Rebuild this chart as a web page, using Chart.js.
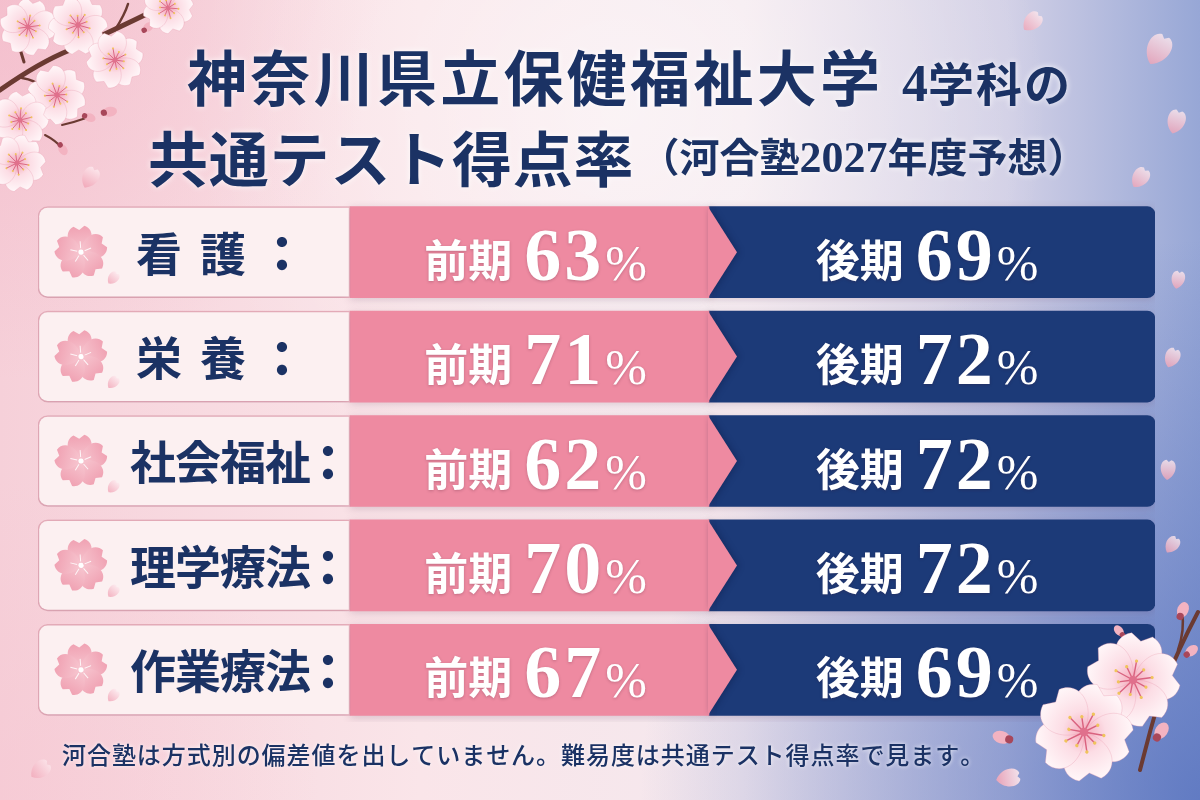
<!DOCTYPE html>
<html lang="ja">
<head>
<meta charset="utf-8">
<title>神奈川県立保健福祉大学 4学科の共通テスト得点率</title>
<script src="https://cdn.jsdelivr.net/npm/chart.js@4.4.1/dist/chart.umd.min.js"></script>
<style>
  html, body { margin: 0; padding: 0; background: #f6dde3; }
  #wrap { width: 1200px; height: 800px; }
</style>
</head>
<body>
<div id="wrap"><canvas id="rateChart" width="1200" height="800"></canvas></div>
<script>
// ---- data ----
const departments = ['看護', '栄養', '社会福祉', '理学療法', '作業療法'];
const zenkiRates = [63, 71, 62, 70, 67];   // 前期 (%)
const kokiRates = [69, 72, 72, 72, 69];    // 後期 (%)
const periodNames = ['前期', '後期'];
const titleMain = ['神奈川県立保健福祉大学', '共通テスト得点率'];
const titleSub = ['4学科の', '（河合塾2027年度予想）'];
const footNote = '河合塾は方式別の偏差値を出していません。難易度は共通テスト得点率で見ます。';

// ---- layout: where the cells split along a row (0..1 of the x scale) ----
const LABEL_END = 0.2793;
const ARROW_BASE = 0.6007;
const ARROW_TIP = 28;

const NAVY_TEXT = '#1b3264';
const PINK = '#ee8aa1';
const NAVY = '#1c3a78';
const JP = '"Noto Sans CJK JP", "Noto Sans", sans-serif';
const SERIF = '"Liberation Serif", "DejaVu Serif", serif';

// split a string in runs of digits (serif) and the rest (gothic)
function splitRuns(str, jpFont, numFont, jpSp, numSp) {
  const runs = [];
  for (const ch of str) {
    const isNum = /[0-9]/.test(ch);
    const last = runs[runs.length - 1];
    if (last && last.num === isNum) last.t += ch;
    else runs.push({ t: ch, num: isNum, font: isNum ? numFont : jpFont, sp: isNum ? numSp : jpSp });
  }
  return runs;
}

function partWidth(ctx, p) {
  ctx.font = p.font;
  let w = 0;
  const chars = [...p.t];
  chars.forEach(ch => { w += ctx.measureText(ch).width; });
  return w + (p.sp || 0) * (chars.length - 1);
}

// draw parts char by char; align 'left' or 'center'
function drawParts(ctx, parts, x, y, align) {
  let total = 0;
  parts.forEach((p, i) => { total += partWidth(ctx, p) + (i ? (p.gap || 0) : 0); });
  let cx = align === 'center' ? x - total / 2 : x;
  ctx.textAlign = 'left';
  parts.forEach((p, i) => {
    if (i) cx += p.gap || 0;
    ctx.font = p.font;
    for (const ch of p.t) {
      ctx.fillText(ch, cx, y + (p.dy || 0));
      cx += ctx.measureText(ch).width + (p.sp || 0);
    }
    cx -= p.sp || 0;
  });
}

// ---- sakura drawing helpers ----
function petalPath(ctx, r, w) {
  ctx.beginPath();
  ctx.moveTo(0, 0);
  ctx.bezierCurveTo(-w * 0.9, -r * 0.25, -w, -r * 0.85, -w * 0.35, -r);
  ctx.lineTo(0, -r * 0.86);
  ctx.lineTo(w * 0.35, -r);
  ctx.bezierCurveTo(w, -r * 0.85, w * 0.9, -r * 0.25, 0, 0);
  ctx.closePath();
}

function drawFlower(ctx, x, y, r, rot, inner, outer) {
  ctx.save();
  ctx.translate(x, y);
  ctx.rotate(rot);
  const g = ctx.createRadialGradient(0, 0, 0, 0, 0, r);
  g.addColorStop(0, inner);
  g.addColorStop(0.45, outer);
  g.addColorStop(1, '#fff6f8');
  for (let i = 0; i < 5; i++) {
    ctx.save();
    ctx.rotate(i * Math.PI * 2 / 5);
    petalPath(ctx, r, r * 0.66);
    ctx.fillStyle = g;
    ctx.fill();
    ctx.strokeStyle = 'rgba(230,150,170,0.35)';
    ctx.lineWidth = 0.8;
    ctx.stroke();
    ctx.restore();
  }
  // stamens
  ctx.strokeStyle = '#d9627f';
  ctx.lineWidth = Math.max(0.8, r * 0.03);
  for (let i = 0; i < 10; i++) {
    const a = i * Math.PI / 5 + 0.3;
    const len = r * (0.32 + (i % 2) * 0.1);
    ctx.beginPath();
    ctx.moveTo(0, 0);
    ctx.lineTo(Math.cos(a) * len, Math.sin(a) * len);
    ctx.stroke();
    ctx.fillStyle = '#f0c45c';
    ctx.beginPath();
    ctx.arc(Math.cos(a) * len, Math.sin(a) * len, Math.max(1, r * 0.035), 0, Math.PI * 2);
    ctx.fill();
  }
  ctx.fillStyle = '#e0708c';
  ctx.beginPath();
  ctx.arc(0, 0, r * 0.09, 0, Math.PI * 2);
  ctx.fill();
  ctx.restore();
}

function drawIcon(ctx, x, y, r) {
  ctx.save();
  ctx.translate(x, y);
  ctx.rotate(-0.08);
  for (let i = 0; i < 5; i++) {
    ctx.save();
    ctx.rotate(i * Math.PI * 2 / 5);
    petalPath(ctx, r, r * 0.6);
    const g = ctx.createLinearGradient(0, 0, 0, -r);
    g.addColorStop(0, '#f7c6d0');
    g.addColorStop(1, '#f0a2b3');
    ctx.fillStyle = g;
    ctx.fill();
    ctx.strokeStyle = 'rgba(255,255,255,0.85)';
    ctx.lineWidth = 1;
    ctx.beginPath();
    ctx.moveTo(0, -r * 0.15);
    ctx.lineTo(0, -r * 0.42);
    ctx.stroke();
    ctx.restore();
  }
  ctx.fillStyle = '#ffffff';
  ctx.beginPath();
  ctx.arc(0, 0, r * 0.1, 0, Math.PI * 2);
  ctx.fill();
  ctx.restore();
}

function drawPetal(ctx, x, y, len, rot, alpha) {
  ctx.save();
  ctx.translate(x, y);
  ctx.rotate(rot);
  ctx.globalAlpha = alpha;
  const g = ctx.createLinearGradient(0, -len / 2, 0, len / 2);
  g.addColorStop(0, '#fde9ee');
  g.addColorStop(1, '#f1a3b5');
  ctx.fillStyle = g;
  ctx.beginPath();
  ctx.moveTo(0, len / 2);
  ctx.bezierCurveTo(-len * 0.5, len * 0.2, -len * 0.45, -len * 0.45, -len * 0.12, -len / 2);
  ctx.lineTo(0, -len * 0.4);
  ctx.lineTo(len * 0.12, -len / 2);
  ctx.bezierCurveTo(len * 0.45, -len * 0.45, len * 0.5, len * 0.2, 0, len / 2);
  ctx.fill();
  ctx.restore();
}

function drawBud(ctx, x, y, r, rot) {
  ctx.save();
  ctx.translate(x, y);
  ctx.rotate(rot);
  ctx.fillStyle = '#f3b3c1';
  ctx.beginPath();
  ctx.ellipse(0, -r * 0.3, r * 0.7, r, 0, 0, Math.PI * 2);
  ctx.fill();
  ctx.fillStyle = '#a8475a';
  ctx.beginPath();
  ctx.ellipse(0, r * 0.6, r * 0.45, r * 0.45, 0, 0, Math.PI * 2);
  ctx.fill();
  ctx.restore();
}

function branch(ctx, pts, width) {
  ctx.save();
  ctx.strokeStyle = '#6b3a32';
  ctx.lineWidth = width;
  ctx.lineCap = 'round';
  ctx.beginPath();
  ctx.moveTo(pts[0][0], pts[0][1]);
  for (let i = 1; i < pts.length - 1; i += 2) {
    ctx.quadraticCurveTo(pts[i][0], pts[i][1], pts[i + 1][0], pts[i + 1][1]);
  }
  ctx.stroke();
  ctx.restore();
}

// ---- plugins ----
const backdropPlugin = {
  id: 'backdrop',
  beforeDraw(chart) {
    const { ctx, width, height } = chart;
    ctx.save();
    let g = ctx.createLinearGradient(0, 0, width, 0);
    g.addColorStop(0, '#f6d0d9');
    g.addColorStop(0.35, '#fae5e9');
    g.addColorStop(0.62, '#f4e8ee');
    g.addColorStop(0.84, '#d2d0e6');
    g.addColorStop(1, '#97a7d6');
    ctx.fillStyle = g;
    ctx.fillRect(0, 0, width, height);
    const blobs = [
      [1200, 800, 560, 'rgba(84,112,190,0.8)'],
      [0, 0, 380, 'rgba(243,178,196,0.55)'],
      [0, 800, 320, 'rgba(246,196,208,0.45)'],
      [620, 110, 430, 'rgba(255,255,255,0.5)']
    ];
    blobs.forEach(([x, y, r, c]) => {
      const rg = ctx.createRadialGradient(x, y, 0, x, y, r);
      rg.addColorStop(0, c);
      rg.addColorStop(1, c.replace(/[\d.]+\)$/, '0)'));
      ctx.fillStyle = rg;
      ctx.fillRect(0, 0, width, height);
    });

    // top-left branch
    branch(ctx, [[0, 90], [40, 62], [70, 50], [110, 32], [155, 10]], 5);
    branch(ctx, [[24, 62], [18, 40], [10, 30]], 3);
    branch(ctx, [[22, 78], [35, 80], [44, 88]], 2.5);
    branch(ctx, [[115, 30], [125, 14], [128, 4]], 2.5);
    branch(ctx, [[62, 125], [75, 122], [86, 118]], 2);
    branch(ctx, [[45, 135], [55, 140], [62, 148]], 2);
    drawBud(ctx, 147, 28, 6, 0.9);
    drawBud(ctx, 62, 148, 6, 2.6);
    drawBud(ctx, 88, 117, 6, 1.9);
    drawBud(ctx, 108, 112, 7, 1.4);
    const tl = [[28, 27, 28, 0.2], [78, 25, 29, 0.6], [115, 60, 28, 1.1], [168, 8, 25, 0.4],
      [57, 95, 29, 0.9], [20, 120, 28, 0.1], [17, 163, 28, 0.5]];
    tl.forEach(([x, y, r, a]) => drawFlower(ctx, x, y, r, a, '#f2a0b4', '#fcdde5'));
    drawPetal(ctx, 90, 178, 22, 0.5, 0.85);
    drawPetal(ctx, 40, 770, 22, 0.9, 0.7);

    // floating petals on the right
    [[1032, 22, 22, 0.8], [1158, 50, 32, 0.5], [1176, 122, 24, 0.3], [1140, 178, 22, 0.6],
      [1178, 280, 18, 0.2], [1172, 358, 20, 0.4], [1168, 470, 20, 0.1], [1172, 545, 18, 0.6]]
      .forEach(([x, y, l, a]) => drawPetal(ctx, x, y, l, a, 0.8));
    ctx.restore();
  }
};

const shadowPlugin = {
  id: 'rowShadow',
  beforeDatasetsDraw(chart) {
    const ctx = chart.ctx;
    ctx.save();
    ctx.shadowColor = 'rgba(110,70,100,0.22)';
    ctx.shadowBlur = 8;
    ctx.shadowOffsetY = 2;
  },
  afterDatasetsDraw(chart) {
    chart.ctx.restore();
  }
};

const cellTextPlugin = {
  id: 'cellText',
  afterDatasetsDraw(chart) {
    const ctx = chart.ctx;
    const labelBars = chart.getDatasetMeta(0).data;
    const zenkiBars = chart.getDatasetMeta(1).data;
    const kokiBars = chart.getDatasetMeta(2).data;

    departments.forEach((dept, i) => {
      const lb = labelBars[i].getProps(['x', 'y', 'base', 'height'], true);
      const zb = zenkiBars[i].getProps(['x', 'y', 'base', 'height'], true);
      const kb = kokiBars[i].getProps(['x', 'y', 'base', 'height'], true);
      const top = zb.y - zb.height / 2;

      // arrow head of the 前期 cell pointing into the 後期 cell
      ctx.save();
      ctx.shadowColor = 'rgba(10,20,60,0.35)';
      ctx.shadowBlur = 6;
      ctx.shadowOffsetX = 2;
      ctx.fillStyle = PINK;
      ctx.beginPath();
      ctx.moveTo(zb.x - 1, top);
      ctx.lineTo(zb.x + ARROW_TIP, zb.y);
      ctx.lineTo(zb.x - 1, top + zb.height);
      ctx.closePath();
      ctx.fill();
      ctx.restore();

      // sakura icon + department name
      drawIcon(ctx, lb.base + 43, lb.y, 26);
      drawPetal(ctx, lb.base + 75, lb.y + 26, 14, 0.7, 0.8);
      ctx.save();
      ctx.fillStyle = NAVY_TEXT;
      ctx.textBaseline = 'middle';
      const chars = [...dept];
      const pitch = chars.length === 2 ? 64 : 45;
      const start = lb.base + (chars.length === 2 ? 98 : 92);
      ctx.font = `700 46px ${JP}`;
      ctx.textAlign = 'left';
      chars.forEach((ch, k) => ctx.fillText(ch, start + k * pitch, lb.y + 1));
      ctx.textAlign = 'center';
      ctx.font = `900 48px ${JP}`;
      ctx.fillText('：', start + chars.length * pitch + 18, lb.y + 1);
      ctx.restore();

      // rate texts
      ctx.save();
      ctx.fillStyle = '#ffffff';
      ctx.textBaseline = 'alphabetic';
      ctx.shadowColor = 'rgba(60,20,40,0.25)';
      ctx.shadowBlur = 3;
      ctx.shadowOffsetY = 1;
      const rateParts = (name, v) => [
        { t: name, font: `700 44px ${JP}`, dy: -3 },
        { t: String(v), font: `700 74px ${SERIF}`, sp: 3, gap: 12 },
        { t: '%', font: `400 50px ${SERIF}`, gap: 4 }
      ];
      drawParts(ctx, rateParts(periodNames[0], zenkiRates[i]), (zb.base + zb.x) / 2 + 6, top + 73, 'center');
      drawParts(ctx, rateParts(periodNames[1], kokiRates[i]), (kb.base + kb.x) / 2 - 5, top + 73, 'center');
      ctx.restore();
    });
  }
};

const headingPlugin = {
  id: 'heading',
  afterDraw(chart) {
    const ctx = chart.ctx;
    ctx.save();
    ctx.fillStyle = NAVY_TEXT;
    ctx.textBaseline = 'alphabetic';
    ctx.shadowColor = 'rgba(255,255,255,0.9)';
    ctx.shadowBlur = 6;
    const line1 = [{ t: titleMain[0], font: `700 60px ${JP}`, sp: 3.3 }]
      .concat(splitRuns(titleSub[0], `700 46px ${JP}`, `700 52px ${SERIF}`, 2, 0));
    line1[1].gap = 22;
    drawParts(ctx, line1, 187, 101, 'left');
    const line2 = [{ t: titleMain[1], font: `700 60px ${JP}`, sp: 0.8 }]
      .concat(splitRuns(titleSub[1], `700 40px ${JP}`, `700 44px ${SERIF}`, 0, 0));
    line2.forEach((p, k) => { if (k) p.dy = -10; });
    line2[1].gap = 6;
    drawParts(ctx, line2, 148, 182, 'left');

    // foot note
    ctx.shadowBlur = 4;
    drawParts(ctx, [{ t: footNote, font: `500 24px ${JP}`, sp: 0.95 }], 62, 764, 'left');
    ctx.restore();

    // bottom-right sakura cluster
    ctx.save();
    branch(ctx, [[1198, 612], [1178, 650], [1162, 690], [1150, 730], [1140, 770]], 4);
    branch(ctx, [[1162, 690], [1130, 700], [1100, 720]], 3);
    branch(ctx, [[1178, 650], [1185, 630], [1182, 612]], 2.5);
    drawBud(ctx, 1182, 612, 8, 0.4);
    drawBud(ctx, 1190, 652, 7, 0.9);
    drawBud(ctx, 1004, 738, 9, -1.3);
    drawBud(ctx, 1160, 733, 9, 0.6);
    drawBud(ctx, 1120, 632, 6, -0.7);
    drawFlower(ctx, 1133, 680, 46, 0.2, '#f4a9bb', '#fcdde5');
    drawFlower(ctx, 1084, 732, 48, 0.5, '#f4a9bb', '#fcdde5');
    drawPetal(ctx, 1008, 778, 24, 1.4, 0.9);
    ctx.restore();
  }
};

// ---- chart ----
const cellSpans = (a, b) => departments.map(() => [a, b]);

const config = {
  type: 'bar',
  data: {
    labels: departments,
    datasets: [
      {
        label: '学科',
        data: cellSpans(0, LABEL_END),
        backgroundColor: '#fcf0f1',
        borderColor: '#eab1bd',
        borderWidth: 1.5,
        borderSkipped: false,
        borderRadius: { topLeft: 10, bottomLeft: 10, topRight: 0, bottomRight: 0 }
      },
      {
        label: periodNames[0],
        data: cellSpans(LABEL_END, ARROW_BASE),
        backgroundColor: PINK,
        borderWidth: 0
      },
      {
        label: periodNames[1],
        data: cellSpans(ARROW_BASE, 1),
        backgroundColor: NAVY,
        borderWidth: 0,
        borderSkipped: false,
        borderRadius: { topLeft: 0, bottomLeft: 0, topRight: 8, bottomRight: 8 }
      }
    ]
  },
  options: {
    indexAxis: 'y',
    responsive: false,
    devicePixelRatio: 1,
    animation: false,
    datasets: { bar: { grouped: false, barThickness: 91 } },
    layout: { padding: { left: 38, right: 45, top: 200, bottom: 78 } },
    plugins: { legend: { display: false }, tooltip: { enabled: false } },
    scales: {
      x: { type: 'linear', min: 0, max: 1, display: false },
      y: { type: 'category', display: false, offset: true }
    }
  },
  plugins: [backdropPlugin, shadowPlugin, cellTextPlugin, headingPlugin]
};

window.onload = () => {
  const ctx = document.getElementById('rateChart').getContext('2d');
  new Chart(ctx, config);
};
</script>
</body>
</html>
